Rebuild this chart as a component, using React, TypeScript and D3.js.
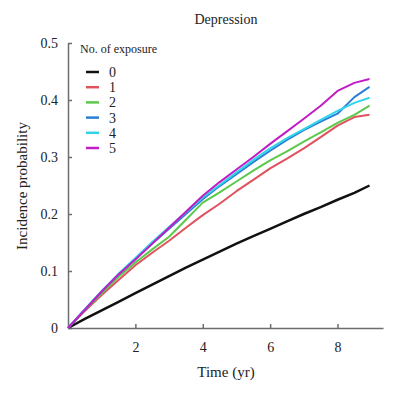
import React, { useRef, useEffect } from 'react'
import * as d3 from 'd3'

const times = [0, 0.5, 1, 1.5, 2, 2.5, 3, 3.5, 4, 4.5, 5, 5.5, 6, 6.5, 7, 7.5, 8, 8.5, 8.95]

const exposure0 = [0, 0.016, 0.031, 0.046, 0.061, 0.076, 0.091, 0.106, 0.12, 0.134, 0.148, 0.161, 0.174, 0.187, 0.2, 0.212, 0.225, 0.237, 0.25]
const exposure1 = [0, 0.03, 0.058, 0.084, 0.11, 0.132, 0.153, 0.176, 0.198, 0.218, 0.24, 0.26, 0.28, 0.297, 0.315, 0.335, 0.355, 0.37, 0.374]
const exposure2 = [0, 0.031, 0.061, 0.09, 0.115, 0.138, 0.16, 0.19, 0.22, 0.238, 0.257, 0.276, 0.294, 0.31, 0.327, 0.343, 0.36, 0.374, 0.39]
const exposure3 = [0, 0.032, 0.064, 0.094, 0.121, 0.148, 0.174, 0.2, 0.226, 0.249, 0.27, 0.291, 0.311, 0.33, 0.347, 0.362, 0.376, 0.405, 0.423]
const exposure4 = [0, 0.033, 0.065, 0.095, 0.123, 0.151, 0.177, 0.203, 0.229, 0.251, 0.273, 0.295, 0.315, 0.333, 0.349, 0.365, 0.381, 0.395, 0.404]
const exposure5 = [0, 0.032, 0.064, 0.094, 0.12, 0.148, 0.176, 0.204, 0.232, 0.256, 0.278, 0.3, 0.323, 0.345, 0.367, 0.39, 0.416, 0.43, 0.437]

const seriesNames = ['0', '1', '2', '3', '4', '5']
const seriesColors = ['#111111', '#e0525e', '#5cc84c', '#2b80d6', '#33d4ea', '#c21cc4']
const seriesValues = [exposure0, exposure1, exposure2, exposure3, exposure4, exposure5]

const xTicks = [2, 4, 6, 8]
const yTicks = [0, 0.1, 0.2, 0.3, 0.4, 0.5]

const width = 405
const height = 394
const margin = { top: 43, right: 22, bottom: 66, left: 68 }
const font = 'Liberation Serif'
const axisColor = '#6e6e6e'

const App: React.FC = () => {
  const svgRef = useRef<SVGSVGElement | null>(null)

  useEffect(() => {
    if (!svgRef.current) return
    const svg = d3.select(svgRef.current)
    svg.selectAll('*').remove()

    const iw = width - margin.left - margin.right
    const ih = height - margin.top - margin.bottom

    const x = d3.scaleLinear().domain([0, 9.35]).range([0, iw])
    const y = d3.scaleLinear().domain([0, 0.5]).range([ih, 0])

    const chart = svg.append('g')
      .attr('transform', `translate(${margin.left},${margin.top})`)

    // title
    svg.append('text')
      .attr('x', 226)
      .attr('y', 24)
      .attr('text-anchor', 'middle')
      .attr('font-family', font)
      .attr('font-size', 14)
      .attr('fill', '#222')
      .text('Depression')

    // axes
    const xAxis = chart.append('g')
      .attr('transform', `translate(0,${ih})`)
      .call(d3.axisBottom(x).tickValues(xTicks).tickSize(-4).tickSizeOuter(0).tickPadding(14).tickFormat(d3.format('d')))
    const yAxis = chart.append('g')
      .call(d3.axisLeft(y).tickValues(yTicks).tickSize(-4).tickSizeOuter(0).tickPadding(10)
        .tickFormat(d => (d === 0 ? '0' : d3.format('.1f')(d as number))))

    for (const g of [xAxis, yAxis]) {
      g.attr('font-family', font).attr('font-size', 14)
      g.select('.domain').attr('stroke', axisColor).attr('stroke-width', 1.5)
      g.selectAll('.tick line').attr('stroke', axisColor).attr('stroke-width', 1.5)
      g.selectAll('.tick text').attr('fill', '#222')
    }

    // lines
    const line = d3.line<number>()
      .x((_, i) => x(times[i]))
      .y(d => y(d))

    seriesValues.forEach((vals, i) => {
      chart.append('path')
        .datum(vals)
        .attr('fill', 'none')
        .attr('stroke', seriesColors[i])
        .attr('stroke-width', i === 0 ? 2.5 : 2)
        .attr('stroke-linejoin', 'round')
        .attr('d', line)
    })

    // legend
    const legend = svg.append('g').attr('transform', 'translate(80,53)')
    legend.append('text')
      .attr('x', 0)
      .attr('y', 0)
      .attr('font-family', font)
      .attr('font-size', 12)
      .attr('fill', '#222')
      .text('No. of exposure')
    seriesNames.forEach((name, i) => {
      const ly = 19 + i * 15.2
      legend.append('line')
        .attr('x1', 6).attr('x2', 19)
        .attr('y1', ly).attr('y2', ly)
        .attr('stroke', seriesColors[i])
        .attr('stroke-width', 2.5)
      legend.append('text')
        .attr('x', 29)
        .attr('y', ly + 5)
        .attr('font-family', font)
        .attr('font-size', 14)
        .attr('fill', '#222')
        .text(name)
    })

    // axis labels
    svg.append('text')
      .attr('x', 226)
      .attr('y', 377)
      .attr('text-anchor', 'middle')
      .attr('font-family', font)
      .attr('font-size', 15)
      .attr('fill', '#222')
      .text('Time (yr)')

    svg.append('text')
      .attr('transform', 'rotate(-90)')
      .attr('x', -186)
      .attr('y', 27)
      .attr('text-anchor', 'middle')
      .attr('font-family', font)
      .attr('font-size', 15)
      .attr('fill', '#222')
      .text('Incidence probability')
  }, [])

  return (
    <svg ref={svgRef} width={width} height={height}
      style={{ position: 'absolute', left: 0, top: 0, background: '#fff' }} />
  )
}

export default App
